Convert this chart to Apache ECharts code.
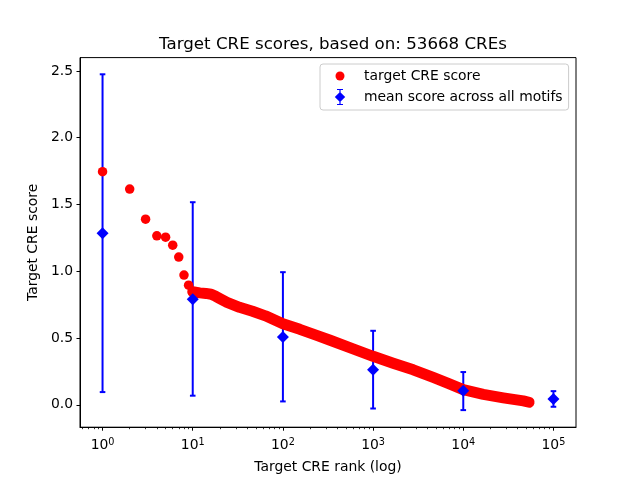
<!DOCTYPE html>
<html><head><meta charset="utf-8">
<script src="https://cdn.jsdelivr.net/npm/echarts@6/dist/echarts.min.js"></script>
<style>html,body{margin:0;padding:0;background:#fff}#c{width:640px;height:480px}</style>
</head><body><div id="c"></div>
<script>
// ---- data ----
const headRanks  = [1, 2, 3, 4, 5, 6, 7, 8, 9];
const headScores = [1.746, 1.615, 1.390, 1.265, 1.255, 1.195, 1.106, 0.971, 0.896];
const bandRanks  = [10, 12, 14, 16, 18, 20, 24, 33, 46, 64, 100, 154, 237, 334, 600, 1000, 1670, 2790, 4640, 6800, 10000, 16700, 27800, 46400, 53668];
const bandScores = [0.846, 0.838, 0.834, 0.828, 0.812, 0.795, 0.767, 0.730, 0.700, 0.666, 0.606, 0.565, 0.520, 0.483, 0.419, 0.363, 0.311, 0.262, 0.205, 0.160, 0.113, 0.078, 0.052, 0.029, 0.019];
const meanRanks  = [1, 10, 100, 1000, 10000, 100000];
const meanScores = [1.285, 0.791, 0.507, 0.262, 0.105, 0.043];
const errLow     = [0.095, 0.068, 0.025, -0.028, -0.040, -0.015];
const errHigh    = [2.475, 1.517, 0.993, 0.554, 0.245, 0.102];
const xTickValues = [1, 10, 100, 1000, 10000, 100000];
const xTickExps   = ['0', '1', '2', '3', '4', '5'];
const yTickValues = [0, 0.5, 1.0, 1.5, 2.0, 2.5];
const yTickLabels = ['0.0', '0.5', '1.0', '1.5', '2.0', '2.5'];
const minorMult = [2, 3, 4, 5, 6, 7, 8, 9];
const minorDecades = [1, 10, 100, 1000, 10000];

const FONT = 'DejaVu Sans';
const RED = '#ff0000', BLUE = '#0000ff';
const minorTicks = [0.6, 0.7, 0.8, 0.9];
minorDecades.forEach(d => minorMult.forEach(m => minorTicks.push(d * m)));

const headData = headRanks.map((r, i) => [r, headScores[i]]);
const bandData = bandRanks.map((r, i) => [r, bandScores[i]]);
const meanData = meanRanks.map((r, i) => [r, meanScores[i]]);
const errData  = meanRanks.map((r, i) => [r, meanScores[i], errLow[i], errHigh[i]]);

const xMin = Math.pow(10, -0.25), xMax = Math.pow(10, 5.25);

const chart = echarts.init(document.getElementById('c'), null, {renderer: 'canvas'});
chart.setOption({
  animation: false,
  backgroundColor: '#fff',
  title: {
    text: 'Target CRE scores, based on: 53668 CREs',
    left: 328, top: 31, textAlign: 'center',
    textStyle: {fontFamily: FONT, fontSize: 16.67, fontWeight: 'normal', color: '#000'}
  },
  legend: {
    left: 320, top: 64, orient: 'vertical',
    selectedMode: false,
    itemWidth: 12, itemHeight: 16, itemGap: 5,
    padding: [4, 6, 5, 14],
    borderColor: '#cccccc', borderWidth: 1, borderRadius: 3,
    backgroundColor: 'rgba(255,255,255,0.8)',
    textStyle: {fontFamily: FONT, fontSize: 13.9, color: '#000', padding: [0, 0, 0, 13]},
    data: [
      {name: 'target CRE score', icon: 'path://M0,0M12,16M1.5,8A4.5,4.5,0,1,1,10.5,8A4.5,4.5,0,1,1,1.5,8Z', itemStyle: {color: RED}},
      {name: 'mean score across all motifs', icon: 'path://M0,0M12,16M3,0H9V1H6.6V3.4L11.2,8L6.6,12.6V15H9V16H3V15H5.4V12.6L0.8,8L5.4,3.4V1H3Z', itemStyle: {color: BLUE}}
    ]
  },
  grid: {left: 80, right: 64, top: 57.6, bottom: 52.8, show: true, borderColor: '#000', borderWidth: 1, backgroundColor: '#fff'},
  xAxis: [{
    type: 'log', logBase: 10, min: xMin, max: xMax, position: 'bottom',
    name: 'Target CRE rank (log)', nameLocation: 'middle', nameGap: 33,
    nameTextStyle: {fontFamily: FONT, fontSize: 13.9, color: '#000'},
    axisLine: {show: true, onZero: false, lineStyle: {color: '#000', width: 1}},
    axisTick: {show: true, inside: false, length: 3.5, lineStyle: {color: '#000', width: 1}, customValues: xTickValues},
    axisLabel: {
      show: true, margin: 10, customValues: xTickValues,
      formatter: v => '{b|10}{s|' + xTickExps[xTickValues.indexOf(Math.round(v))] + '}',
      rich: {
        b: {fontFamily: FONT, fontSize: 13.9, color: '#000'},
        s: {fontFamily: FONT, fontSize: 9.7, color: '#000', verticalAlign: 'bottom', padding: [0, 0, 6, 0]}
      }
    },
    splitLine: {show: false}
  }, {
    type: 'log', logBase: 10, min: xMin, max: xMax, position: 'bottom', gridIndex: 0,
    axisLine: {show: false, onZero: false},
    axisTick: {show: true, inside: false, length: 2, lineStyle: {color: '#000', width: 0.8}, customValues: minorTicks},
    axisLabel: {show: false},
    splitLine: {show: false}
  }],
  yAxis: {
    type: 'value', min: -0.168, max: 2.6,
    name: 'Target CRE score', nameLocation: 'middle', nameGap: 35, nameRotate: 90,
    nameTextStyle: {fontFamily: FONT, fontSize: 13.9, color: '#000'},
    axisLine: {show: true, onZero: false, lineStyle: {color: '#000', width: 1}},
    axisTick: {show: true, inside: false, length: 3.5, lineStyle: {color: '#000', width: 1}, customValues: yTickValues},
    axisLabel: {
      show: true, margin: 7, customValues: yTickValues,
      formatter: v => yTickLabels[yTickValues.indexOf(v)] !== undefined ? yTickLabels[yTickValues.indexOf(v)] : v.toFixed(1),
      fontFamily: FONT, fontSize: 13.9, color: '#000'
    },
    splitLine: {show: false}
  },
  series: [
    {
      name: 'errbars', type: 'custom', z: 1, xAxisIndex: 0,
      encode: {x: 0, y: [2, 3]},
      data: errData,
      renderItem: (params, api) => {
        const x = api.value(0);
        const pLo = api.coord([x, api.value(2)]);
        const pHi = api.coord([x, api.value(3)]);
        const hw = 2.8;
        const st = {stroke: BLUE, lineWidth: 2};
        return {type: 'group', children: [
          {type: 'line', shape: {x1: pLo[0], y1: pLo[1], x2: pHi[0], y2: pHi[1]}, style: st},
          {type: 'line', shape: {x1: pLo[0] - hw, y1: pLo[1], x2: pLo[0] + hw, y2: pLo[1]}, style: st},
          {type: 'line', shape: {x1: pHi[0] - hw, y1: pHi[1], x2: pHi[0] + hw, y2: pHi[1]}, style: st}
        ]};
      }
    },
    {
      name: 'target CRE score', type: 'scatter', z: 2, xAxisIndex: 0,
      symbol: 'circle', symbolSize: 9.5,
      itemStyle: {color: RED, opacity: 1},
      data: headData
    },
    {
      name: 'band', type: 'line', z: 2, xAxisIndex: 0,
      symbol: 'none', smooth: false,
      lineStyle: {color: RED, width: 11, cap: 'round', join: 'round'},
      data: bandData
    },
    {
      name: 'mean score across all motifs', type: 'scatter', z: 3, xAxisIndex: 0,
      symbol: 'diamond', symbolSize: [12, 12],
      itemStyle: {color: BLUE, opacity: 1},
      data: meanData
    }
  ]
});
</script>
</body></html>
